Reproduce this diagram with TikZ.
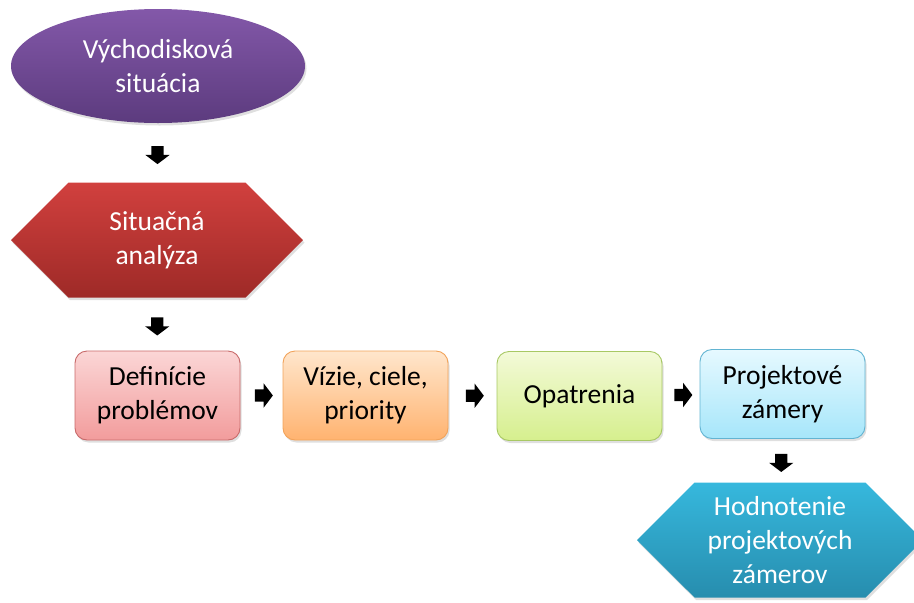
\documentclass[tikz,border=0pt]{standalone}
\usepackage{fontspec}
\setmainfont{Carlito}
\usetikzlibrary{shapes.geometric,shapes.symbols,shapes.arrows,shadows,calc}

\definecolor{purpleT}{HTML}{8358A9}
\definecolor{purpleB}{HTML}{5C3B7E}
\definecolor{redT}{HTML}{D1403E}
\definecolor{redB}{HTML}{9E2A27}
\definecolor{tealT}{HTML}{36B8DD}
\definecolor{tealB}{HTML}{278DAE}
\definecolor{pinkT}{HTML}{FBD6D6}
\definecolor{pinkB}{HTML}{F29C9C}
\definecolor{pinkD}{HTML}{C86A6A}
\definecolor{orangeT}{HTML}{FFE6CC}
\definecolor{orangeB}{HTML}{FFB370}
\definecolor{orangeD}{HTML}{F2A35A}
\definecolor{greenT}{HTML}{F3FAD8}
\definecolor{greenB}{HTML}{D6EF8E}
\definecolor{greenD}{HTML}{A8C864}
\definecolor{blueT}{HTML}{E6F9FF}
\definecolor{blueB}{HTML}{A6E6FA}
\definecolor{blueD}{HTML}{62B4D2}

\tikzset{
  txt/.style={font=\fontsize{27.5}{34}\selectfont, align=center, inner sep=0pt},
  shade/.style={drop shadow={opacity=0.25, shadow xshift=1.5pt, shadow yshift=-2.5pt}},
  darkshape/.style={txt, text=white, shade},
  hexshape/.style={darkshape, shape=signal, signal to=east and west,
    signal pointer angle=90, minimum width=#1, minimum height=115pt},
  stepbox/.style={txt, text=black, shade, rounded corners=12pt, line width=0.9pt,
    minimum width=165pt, minimum height=89pt},
  blockarrow/.style={shape=single arrow, fill=black, draw=none, inner sep=6pt,
    minimum width=24pt, single arrow head extend=6pt,
    single arrow head indent=0pt, single arrow tip angle=106,
    minimum height=18pt}
}

\begin{document}
\begin{tikzpicture}[x=1pt,y=-1pt]
  \useasboundingbox (0,0) rectangle (914,603);

  % start ellipse
  \node[darkshape, ellipse, minimum width=294pt, minimum height=114pt,
        top color=purpleT, bottom color=purpleB] (start) at (158,66)
        {Východisková\\situácia};

  % analysis hexagon
  \node[hexshape=292pt, top color=redT, bottom color=redB] (analysis) at (157,240)
        {Situačná\\analýza};

  % row of process steps
  \node[stepbox, draw=pinkD, top color=pinkT, bottom color=pinkB] (def) at (157.5,395.5)
        {Definície\\problémov};
  \node[stepbox, draw=orangeD, top color=orangeT, bottom color=orangeB] (vision) at (365.5,395.5)
        {Vízie, ciele,\\priority};
  \node[stepbox, draw=greenD, top color=greenT, bottom color=greenB] (measures) at (579.5,396)
        {Opatrenia};
  \node[stepbox, draw=blueD, top color=blueT, bottom color=blueB] (projects) at (782.5,394)
        {Projektové\\zámery};

  % evaluation hexagon
  \node[hexshape=286pt, top color=tealT, bottom color=tealB] (eval) at (780,540)
        {Hodnotenie\\projektových\\zámerov};

  % block arrows between the shapes
  \node[blockarrow, shape border rotate=270] (a1) at ($(start.south)!0.5!(analysis.north)$) {};
  \node[blockarrow, shape border rotate=270] (a2) at ($(analysis.south)!0.5!(def.north)$) {};
  \node[blockarrow] (a3) at ($(def.east)!0.5!(vision.west)$) {};
  \node[blockarrow] (a4) at ($(vision.east)!0.5!(measures.west)$) {};
  \node[blockarrow] (a5) at ($(measures.east)!0.5!(projects.west)$) {};
  \node[blockarrow, shape border rotate=270] (a6) at ($(projects.south)!0.5!(eval.north)$) {};
\end{tikzpicture}
\end{document}
